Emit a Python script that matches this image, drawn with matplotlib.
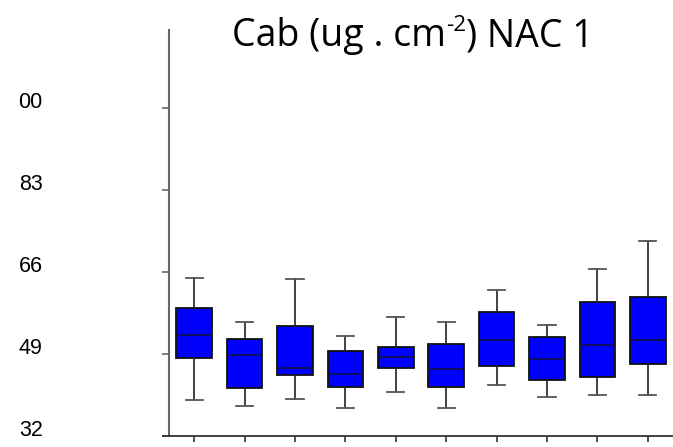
import numpy as np
import matplotlib.pyplot as plt
plt.switch_backend("Agg")

# box statistics (ug . cm-2)
groups = list(range(1, 11))
whislo = [39.5, 38.2, 39.7, 37.9, 41.1, 37.9, 42.6, 40.1, 40.6, 40.4]
q1 = [48.1, 42.0, 44.6, 42.1, 46.2, 42.1, 46.5, 43.6, 44.2, 46.9]
med = [53.0, 48.7, 46.1, 44.8, 48.3, 45.8, 52.0, 47.9, 50.8, 52.0]
q3 = [58.6, 52.2, 54.8, 49.6, 50.4, 51.1, 57.8, 52.5, 59.8, 60.8]
whishi = [64.7, 55.6, 64.5, 52.8, 56.7, 55.7, 62.3, 55.0, 66.6, 72.5]

yticks = [32, 49, 66, 83, 100]
ytick_labels = ["32", "49", "66", "83", "00"]
title_main = "Cab (ug . cm"
title_sup = "-2"
title_rest = ") NAC 1"

fig = plt.figure(figsize=(6.73, 4.47), dpi=100)
ax = fig.add_axes([169 / 673, 11 / 447, 1 - 169 / 673, 406 / 447])

stats = []
for i in range(len(groups)):
    stats.append(dict(whislo=whislo[i], q1=q1[i], med=med[i], q3=q3[i],
                      whishi=whishi[i], fliers=[]))

ax.bxp(stats, positions=groups, widths=0.71, patch_artist=True,
       showfliers=False,
       boxprops=dict(facecolor="#0000ff", edgecolor="#111111", linewidth=1.3),
       medianprops=dict(color="#101050", linewidth=1.3),
       whiskerprops=dict(color="#222222", linewidth=1.2),
       capprops=dict(color="#555555", linewidth=1.3),
       capwidths=0.34)

ax.set_xlim(0.5, 10.5)
ax.set_ylim(32, 116.2)
ax.set_yticks(yticks)
ax.set_yticklabels(ytick_labels, family="Liberation Sans", fontsize=15.5)
ax.set_xticks(groups)
ax.set_xticklabels([])
ax.tick_params(axis="y", direction="out", length=5, width=1.2,
               color="#666666", pad=86)
ax.tick_params(axis="x", direction="out", length=4, width=1.2,
               color="#333333")
for lab in ax.get_yticklabels():
    lab.set_horizontalalignment("right")
    lab.set_verticalalignment("baseline")

for s in ["top", "right"]:
    ax.spines[s].set_visible(False)
ax.spines["left"].set_color("#666666")
ax.spines["left"].set_linewidth(1.5)
ax.spines["bottom"].set_color("#333333")
ax.spines["bottom"].set_linewidth(1.3)
ax.spines["bottom"].set_bounds(0.38, 10.5)

# title drawn in pieces to get the superscript
fig.canvas.draw()
r = fig.canvas.get_renderer()
fs = 27
y0 = 1 - 46 / 447
x0 = 232 / 673
t1 = fig.text(x0, y0, title_main, fontsize=fs, family="Open Sans", va="baseline")
bb = t1.get_window_extent(r)
x1 = bb.x1 / fig.bbox.width
t2 = fig.text(x1, y0 + 0.033, title_sup, fontsize=fs * 0.6, family="Open Sans", va="baseline")
bb2 = t2.get_window_extent(r)
x2 = bb2.x1 / fig.bbox.width
fig.text(x2, y0, title_rest, fontsize=fs, family="Open Sans", va="baseline")

fig.savefig("out.png", dpi=100)
plt.close(fig)
